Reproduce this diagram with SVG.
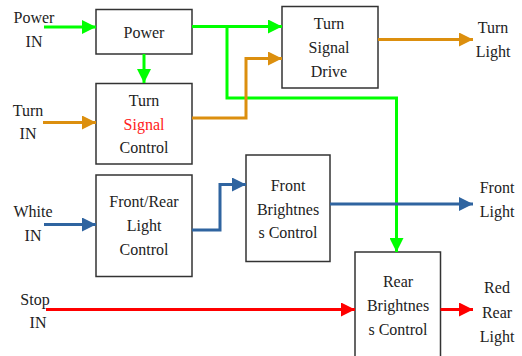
<svg xmlns="http://www.w3.org/2000/svg" width="522" height="356" viewBox="0 0 522 356">
<style>
.box{fill:#fff;stroke:#333;stroke-width:1.5}
text{font-family:'Liberation Serif',serif;font-size:16px;fill:#222;text-anchor:middle}
.g{stroke:#00ff00;stroke-width:3;fill:none}
.o{stroke:#dc8f0e;stroke-width:3;fill:none}
.b{stroke:#2f64a0;stroke-width:3;fill:none}
.r{stroke:#ff0000;stroke-width:3;fill:none}
</style>
<defs>
<marker id="ag" markerUnits="userSpaceOnUse" markerWidth="14" markerHeight="14" refX="14" refY="7" orient="auto"><path d="M0,0 L14,7 L0,14 z" fill="#00ff00"/></marker>
<marker id="ao" markerUnits="userSpaceOnUse" markerWidth="14" markerHeight="14" refX="14" refY="7" orient="auto"><path d="M0,0 L14,7 L0,14 z" fill="#dc8f0e"/></marker>
<marker id="ab" markerUnits="userSpaceOnUse" markerWidth="14" markerHeight="14" refX="14" refY="7" orient="auto"><path d="M0,0 L14,7 L0,14 z" fill="#2f64a0"/></marker>
<marker id="ar" markerUnits="userSpaceOnUse" markerWidth="14" markerHeight="14" refX="14" refY="7" orient="auto"><path d="M0,0 L14,7 L0,14 z" fill="#ff0000"/></marker>
</defs>
<g id="nodes">
<g id="power"><rect class="box" x="96" y="9.5" width="96" height="44.5"/><text x="144" y="38">Power</text></g>
<g id="turn-signal-control"><rect class="box" x="96" y="83.5" width="96" height="80.5"/><text x="144" y="106">Turn</text><text x="144" y="130" style="fill:#ff2020">Signal</text><text x="144" y="153">Control</text></g>
<g id="front-rear-light-control"><rect class="box" x="96" y="175" width="96" height="101.5"/><text x="144" y="207">Front/Rear</text><text x="144" y="231">Light</text><text x="144" y="255">Control</text></g>
<g id="turn-signal-drive"><rect class="box" x="282" y="6.5" width="96" height="81.5"/><text x="329" y="29">Turn</text><text x="329" y="53">Signal</text><text x="329" y="77">Drive</text></g>
<g id="front-brightness-control"><rect class="box" x="246" y="155" width="84" height="106.5"/><text x="288" y="191">Front</text><text x="288" y="215">Brightnes</text><text x="288" y="238">s Control</text></g>
<g id="rear-brightness-control"><rect class="box" x="355" y="252" width="85.5" height="106"/><text x="398" y="287">Rear</text><text x="398" y="311">Brightnes</text><text x="398" y="335">s Control</text></g>
<g id="label-power-in"><text x="34" y="23">Power</text><text x="34" y="47">IN</text></g>
<g id="label-turn-in"><text x="28" y="116">Turn</text><text x="28" y="139">IN</text></g>
<g id="label-white-in"><text x="33" y="217">White</text><text x="33" y="241">IN</text></g>
<g id="label-stop-in"><text x="35" y="305">Stop</text><text x="38" y="328">IN</text></g>
<g id="label-turn-light"><text x="493" y="33">Turn</text><text x="493" y="57">Light</text></g>
<g id="label-front-light"><text x="497" y="193">Front</text><text x="497" y="217">Light</text></g>
<g id="label-red-rear-light"><text x="497" y="293">Red</text><text x="497" y="318">Rear</text><text x="497" y="342">Light</text></g>
</g>
<g id="connectors">
<path class="g" d="M44,27 H96" marker-end="url(#ag)"/>
<path class="g" d="M144,54 V83" marker-end="url(#ag)"/>
<path class="g" d="M192,26.5 H282" marker-end="url(#ag)"/>
<path class="g" d="M227,26.5 V98 H396.5 V252" marker-end="url(#ag)"/>
<path class="o" d="M43,122.5 H96" marker-end="url(#ao)"/>
<path class="o" d="M192,118 H246 V58.5 H282" marker-end="url(#ao)"/>
<path class="o" d="M378,39.5 H473" marker-end="url(#ao)"/>
<path class="b" d="M44,224.5 H96" marker-end="url(#ab)"/>
<path class="b" d="M192,230 H220 V184.5 H246" marker-end="url(#ab)"/>
<path class="b" d="M330,204 H473" marker-end="url(#ab)"/>
<path class="r" d="M46,309.5 H355" marker-end="url(#ar)"/>
<path class="r" d="M440.5,309.5 H473" marker-end="url(#ar)"/>
</g>
</svg>
